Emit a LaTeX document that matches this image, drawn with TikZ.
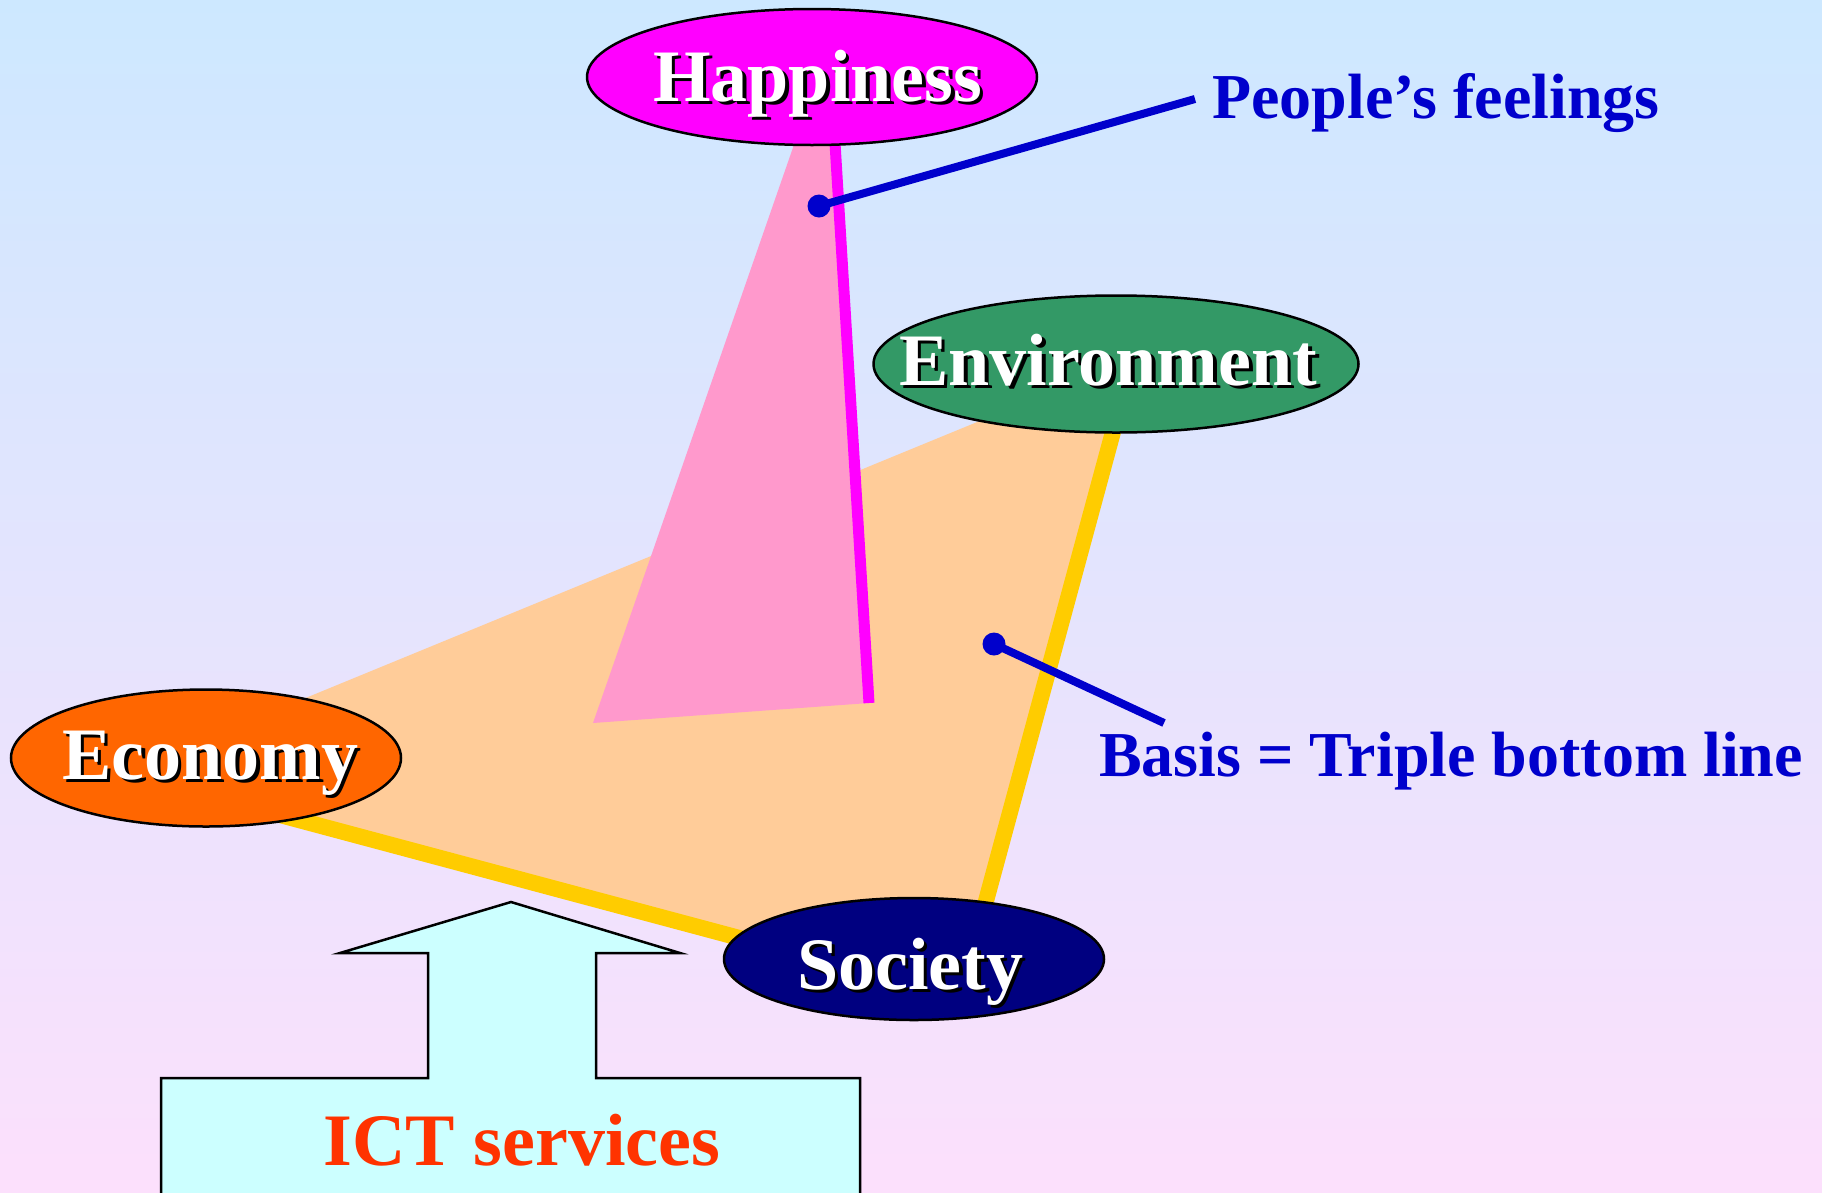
\documentclass[tikz,border=0pt]{standalone}
\usepackage{fontspec}
\setmainfont{Liberation Serif}
\usetikzlibrary{shapes.geometric}
\definecolor{bgtop}{RGB}{205,232,255}
\definecolor{bgbot}{RGB}{252,224,252}
\definecolor{peach}{RGB}{255,204,153}
\definecolor{pinkfill}{RGB}{255,153,204}
\definecolor{ylw}{RGB}{255,204,0}
\definecolor{mag}{RGB}{255,0,255}
\definecolor{envgreen}{RGB}{51,153,102}
\definecolor{ecoorange}{RGB}{255,102,0}
\definecolor{socnavy}{RGB}{0,0,128}
\definecolor{callblue}{RGB}{0,0,204}
\definecolor{ictfill}{RGB}{204,255,255}
\definecolor{ictred}{RGB}{255,51,0}
\newcommand\shtext[1]{\makebox[0pt][l]{\hspace{3.5pt}\raisebox{-3.5pt}{\textcolor{black}{#1}}}#1}
\tikzset{
  oval/.style={ellipse, draw=black, line width=2.5pt, inner sep=0pt},
  lbltxt/.style={anchor=base west, inner sep=0pt, text=white, font=\fontsize{74}{80}\selectfont\bfseries},
  bluetxt/.style={anchor=base west, inner sep=0pt, text=callblue, font=\fontsize{64}{70}\selectfont\bfseries},
  calldot/.style={circle, fill=callblue, inner sep=0pt, minimum size=23pt},
  callout/.style={draw=callblue, line width=8pt},
  edge/.style={draw=ylw, line width=16pt},
}
\begin{document}
\begin{tikzpicture}[x=1pt,y=-1pt]
\useasboundingbox (0,0) rectangle (1822,1192);
\clip (0,0) rectangle (1822,1192);
\shade[top color=bgtop,bottom color=bgbot] (0,0) rectangle (1822,1192);

% basis triangle
\coordinate (veco) at (123,773);
\coordinate (venv) at (1133,358);
\coordinate (vsoc) at (960,997);
\fill[peach] (veco) -- (venv) -- (vsoc) -- cycle;
\draw[edge] (veco) -- (vsoc) -- (venv);

% happiness cone
\coordinate (vhap) at (829,44);
\coordinate (vpl) at (593,723);
\coordinate (vpr) at (869,703);
\fill[pinkfill] (vhap) -- (vpl) -- (vpr) -- cycle;
\draw[mag, line width=11pt] (vhap) -- (vpr);

% ellipses
\node[oval, fill=mag, minimum width=450pt, minimum height=136pt] (hap) at (812,77) {};
\node[oval, fill=envgreen, minimum width=485pt, minimum height=137pt] (env) at (1116,364) {};
\node[oval, fill=ecoorange, minimum width=390pt, minimum height=137pt] (eco) at (206,758) {};
\node[oval, fill=socnavy, minimum width=380pt, minimum height=122pt] (soc) at (914,959) {};

\node[lbltxt] (haptxt) at (653,101) {\shtext{Happiness}};
\node[lbltxt] (envtxt) at (899,385) {\shtext{Environment}};
\node[lbltxt] (ecotxt) at (62,779) {\shtext{Economy}};
\node[lbltxt] (soctxt) at (797,989) {\shtext{Society}};

% callouts
\node[calldot] (pfdot) at (819,206) {};
\coordinate (pfend) at (1195,99);
\draw[callout] (pfdot.center) -- (pfend);
\node[bluetxt] (pf) at (1212,118) {People’s feelings};

\node[calldot] (bdot) at (994,644) {};
\coordinate (bend) at (1164,723);
\draw[callout] (bdot.center) -- (bend);
\node[bluetxt] (basis) at (1099,776) {Basis = Triple bottom line};

% ICT arrow
\draw[fill=ictfill, line width=2.5pt, line join=miter]
  (161,1205) -- (161,1078) -- (428,1078) -- (428,953) -- (340,953) -- (511,902)
  -- (680,953) -- (596,953) -- (596,1078) -- (860,1078) -- (860,1205);
\node[anchor=base, inner sep=0pt, text=ictred, font=\fontsize{74}{80}\selectfont\bfseries] (ict) at (522,1165) {ICT services};
\end{tikzpicture}
\end{document}
